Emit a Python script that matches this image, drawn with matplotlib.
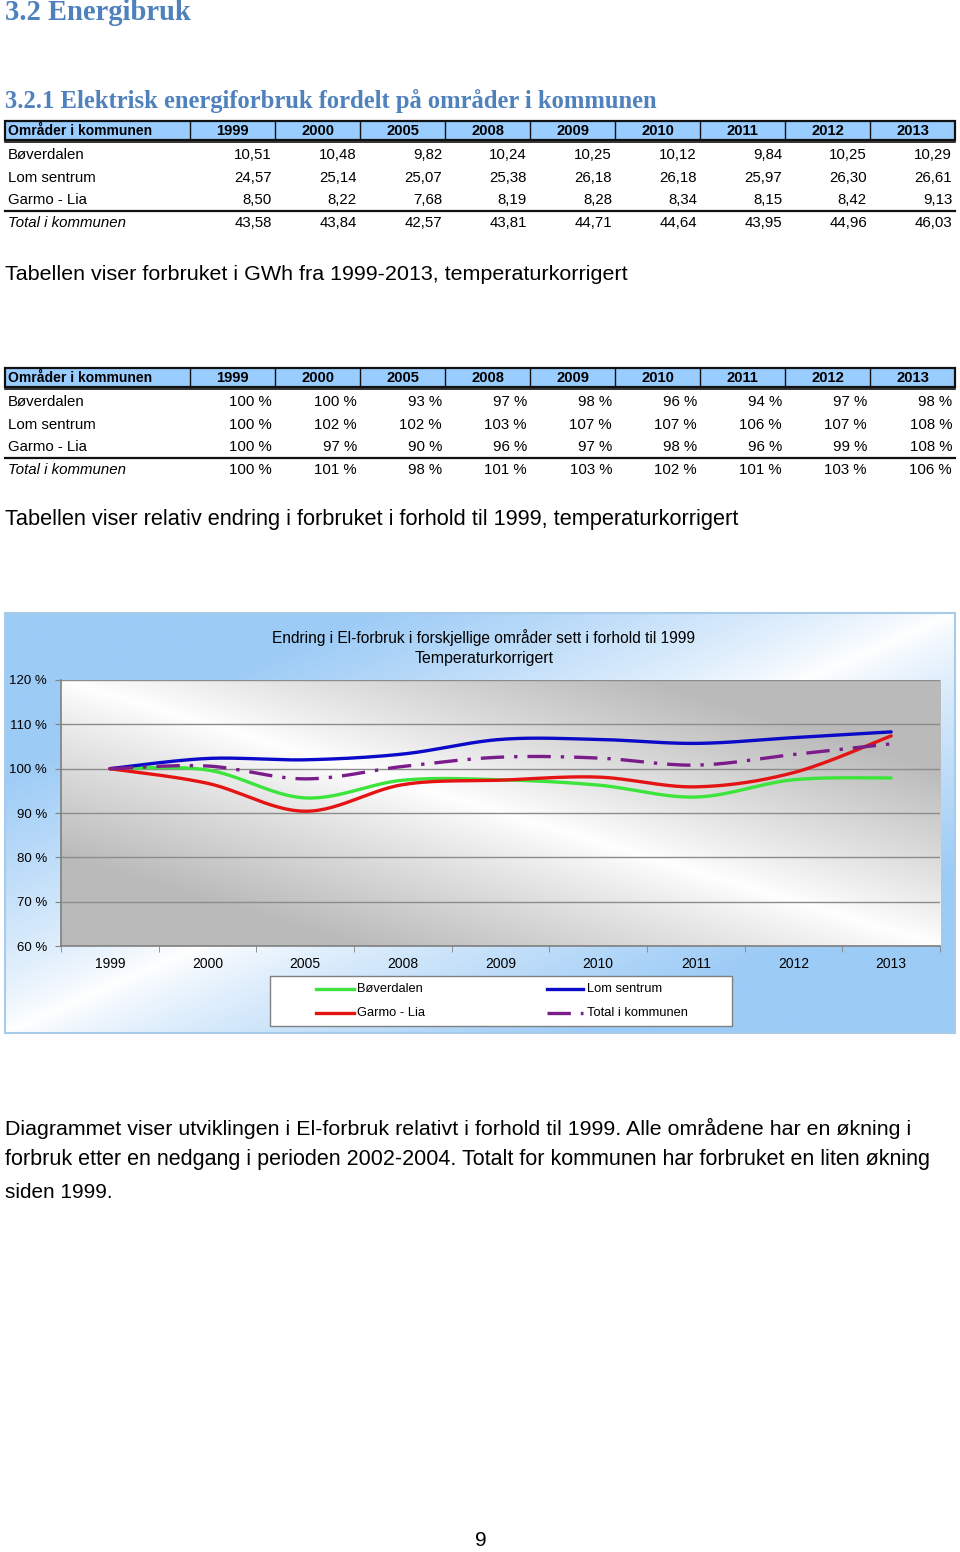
import numpy as np
import matplotlib
matplotlib.use("Agg")
import matplotlib.pyplot as plt
from matplotlib.patches import Rectangle
from matplotlib.lines import Line2D
from matplotlib import font_manager as fm

# ---------------- data ----------------
years = ["1999", "2000", "2005", "2008", "2009", "2010", "2011", "2012", "2013"]
areas = ["Bøverdalen", "Lom sentrum", "Garmo - Lia", "Total i kommunen"]

gwh_bover = [10.51, 10.48, 9.82, 10.24, 10.25, 10.12, 9.84, 10.25, 10.29]
gwh_lom = [24.57, 25.14, 25.07, 25.38, 26.18, 26.18, 25.97, 26.30, 26.61]
gwh_garmo = [8.50, 8.22, 7.68, 8.19, 8.28, 8.34, 8.15, 8.42, 9.13]
gwh_total = [43.58, 43.84, 42.57, 43.81, 44.71, 44.64, 43.95, 44.96, 46.03]

pct_bover = [100, 100, 93, 97, 98, 96, 94, 97, 98]
pct_lom = [100, 102, 102, 103, 107, 107, 106, 107, 108]
pct_garmo = [100, 97, 90, 96, 97, 98, 96, 99, 108]
pct_total = [100, 101, 98, 101, 103, 102, 101, 103, 106]

# chart series (relative to 1999, in %)
chart_bover = [100, 99.7, 93.4, 97.4, 97.5, 96.3, 93.6, 97.5, 97.9]
chart_lom = [100, 102.3, 102.0, 103.3, 106.6, 106.6, 105.7, 107.0, 108.3]
chart_garmo = [100, 96.7, 90.4, 96.4, 97.4, 98.1, 95.9, 99.1, 107.4]
chart_total = [100, 100.6, 97.7, 100.5, 102.6, 102.4, 100.8, 103.2, 105.6]
y_ticks = [60, 70, 80, 90, 100, 110, 120]

# ---------------- fonts ----------------
avail = {f.name for f in fm.fontManager.ttflist}
SANS = "Liberation Sans Narrow" if "Liberation Sans Narrow" in avail else "Liberation Sans"
SERIF = "Liberation Serif"

W, H = 960, 1552
fig = plt.figure(figsize=(W / 100, H / 100), dpi=100)
page = fig.add_axes([0, 0, 1, 1], zorder=0)
over = fig.add_axes([0, 0, 1, 1], zorder=20)
for a in (page, over):
    a.set_xlim(0, W)
    a.set_ylim(H, 0)
    a.axis("off")
over.patch.set_alpha(0)
fig.canvas.draw()
renderer = fig.canvas.get_renderer()


def fit_text(x, y, s, width, size=12, ha="left", va="center", family=SANS, target=None, **kw):
    target = target or page
    t = target.text(x, y, s, ha=ha, va=va, fontsize=size, family=family, **kw)
    if width is not None:
        bb = t.get_window_extent(renderer=renderer)
        t.set_fontsize(size * width / bb.width)
    return t


BLUE_HEAD = "#4F81BD"
fit_text(5, 12, "3.2 Energibruk", 186, size=20, family=SERIF, weight="bold", color=BLUE_HEAD)
fit_text(5, 101, "3.2.1 Elektrisk energiforbruk fordelt på områder i kommunen", 655, size=17,
         family=SERIF, weight="bold", color=BLUE_HEAD)

col_edges = [5, 190, 275, 360, 445, 530, 615, 700, 785, 870, 955]


def draw_table(top, rows, fmt):
    hh = 19
    page.add_patch(Rectangle((col_edges[0], top), col_edges[-1] - col_edges[0], hh,
                             facecolor="#99CCFF", edgecolor="none", zorder=1))
    page.add_patch(Rectangle((col_edges[0], top), col_edges[-1] - col_edges[0], hh,
                             facecolor="none", edgecolor="#111111", lw=1.6, zorder=3))
    for xe in col_edges[1:-1]:
        page.plot([xe, xe], [top, top + hh], color="#111111", lw=1.0, zorder=3)
    page.plot([col_edges[0], col_edges[-1]], [top + hh + 1.5, top + hh + 1.5], color="#111111", lw=1.2, zorder=3)
    fit_text(8, top + hh / 2 + 0.5, "Områder i kommunen", 144, size=10.5, weight="bold")
    for i, yv in enumerate(years):
        xc = (col_edges[i + 1] + col_edges[i + 2]) / 2
        page.text(xc, top + hh / 2 + 0.5, yv, ha="center", va="center", fontsize=10.6,
                  family=SANS, weight="bold")
    row_y = [top + 34, top + 57, top + 79, top + 102]
    page.plot([col_edges[0], col_edges[-1]], [top + 90, top + 90], color="#111111", lw=1.6, zorder=3)
    for r, (name, vals) in enumerate(zip(areas, rows)):
        style = "italic" if r == 3 else "normal"
        page.text(8, row_y[r], name, ha="left", va="center", fontsize=10.8, family=SANS, style=style)
        for i, v in enumerate(vals):
            page.text(col_edges[i + 2] - 3, row_y[r], fmt(v), ha="right", va="center",
                      fontsize=10.8, family=SANS)


draw_table(121, [gwh_bover, gwh_lom, gwh_garmo, gwh_total], lambda v: f"{v:.2f}".replace(".", ","))
fit_text(5, 274, "Tabellen viser forbruket i GWh fra 1999-2013, temperaturkorrigert", 623, size=15)

draw_table(368, [pct_bover, pct_lom, pct_garmo, pct_total], lambda v: f"{v} %")
fit_text(5, 520, "Tabellen viser relativ endring i forbruket i forhold til 1999, temperaturkorrigert", 737, size=15)

# ---------------- chart ----------------
cx0, cy0, cx1, cy1 = 5, 613, 955, 1033


def fig_rect(x0, y0, x1, y1):
    return [x0 / W, 1 - y1 / H, (x1 - x0) / W, (y1 - y0) / H]


bg = fig.add_axes(fig_rect(cx0, cy0, cx1, cy1), zorder=1)
u = np.linspace(0, 1, 300)[None, :]
v = np.linspace(0, 1, 150)[:, None]
d = np.clip(np.abs(u + v - 1.0) * 1.6, 0, 1) ** 0.8
c_white = np.array([1.0, 1.0, 1.0])
c_blue = np.array([0x9C, 0xCB, 0xF6]) / 255
img = c_white[None, None, :] * (1 - d[..., None]) + c_blue[None, None, :] * d[..., None]
bg.imshow(img, aspect="auto", extent=[0, 1, 0, 1], origin="upper")
bg.set_xticks([])
bg.set_yticks([])
for s in bg.spines.values():
    s.set_color("#A9CBEA")
    s.set_linewidth(1.5)

px0, py0, px1, py1 = 61, 680, 940, 946
ax = fig.add_axes(fig_rect(px0, py0, px1, py1), zorder=2)
ax.set_xlim(-0.5, len(years) - 0.5)
ax.set_ylim(60, 120)
g = np.abs(np.linspace(0, 1, 300)[None, :] - np.linspace(0, 1, 150)[:, None])
g = np.clip(g * 1.5, 0, 1) ** 0.9
gray = 1.0 - 0.27 * g
ax.imshow(np.dstack([gray, gray, gray]), aspect="auto", extent=[-0.5, len(years) - 0.5, 60, 120],
          origin="upper", zorder=0)
for t in y_ticks:
    ax.axhline(t, color="#8C8C8C", lw=1.0, zorder=1)


def catmull(xs, ys, n=30):
    xs = np.asarray(xs, float)
    ys = np.asarray(ys, float)
    P = np.column_stack([xs, ys])
    P = np.vstack([P[0], P, P[-1]])
    out = []
    for i in range(1, len(P) - 2):
        p0, p1, p2, p3 = P[i - 1], P[i], P[i + 1], P[i + 2]
        b1 = p1 + (p2 - p0) / 6
        b2 = p2 - (p3 - p1) / 6
        tt = np.linspace(0, 1, n)[:, None]
        seg = ((1 - tt) ** 3) * p1 + 3 * ((1 - tt) ** 2) * tt * b1 + 3 * (1 - tt) * tt ** 2 * b2 + tt ** 3 * p2
        out.append(seg if i == 1 else seg[1:])
    A = np.vstack(out)
    return A[:, 0], A[:, 1]


xi = np.arange(len(years))
DASHDOT = (0, (7, 3, 1, 3))
series = [
    (chart_bover, "#3CE43C", "-", areas[0]),
    (chart_lom, "#0A0AC8", "-", areas[1]),
    (chart_garmo, "#E41414", "-", areas[2]),
    (chart_total, "#7A1C8A", DASHDOT, areas[3]),
]
for vals, col, ls, name in series:
    sx, sy = catmull(xi, vals)
    ax.plot(sx, sy, color=col, lw=2.4, ls=ls, zorder=3, solid_capstyle="round", label=name)

ax.set_yticks(y_ticks)
ax.set_yticklabels([f"{t} %" for t in y_ticks], family=SANS, fontsize=9.5)
ax.set_xticks(xi)
ax.set_xticklabels(years, family=SANS, fontsize=10)
ax.set_xticks(np.arange(len(years) + 1) - 0.5, minor=True)
ax.tick_params(axis="x", which="major", length=0, pad=8)
ax.tick_params(axis="x", which="minor", length=4, color="#808080", direction="out")
ax.tick_params(axis="y", length=4, color="#808080", pad=6)
for sname in ["top", "right"]:
    ax.spines[sname].set_visible(False)
for sname in ["left", "bottom"]:
    ax.spines[sname].set_color("#808080")
    ax.spines[sname].set_linewidth(1.2)

# chart title
fit_text(484, 638, "Endring i El-forbruk i forskjellige områder sett i forhold til 1999", 424, size=11,
         ha="center", target=over)
fit_text(484, 659, "Temperaturkorrigert", 138, size=11, ha="center", target=over)

# legend (row-wise like the reference)
lx0, ly0, lx1, ly1 = 270, 976, 732, 1026
over.add_patch(Rectangle((lx0, ly0), lx1 - lx0, ly1 - ly0, facecolor="white", edgecolor="#808080", lw=1.0))
leg_pos = [(316, 354, 357, 989), (547, 583, 587, 989), (316, 354, 357, 1013), (547, 583, 587, 1013)]
for (vals, col, ls, name), (a0, a1, tx, ty) in zip(series, leg_pos):
    over.add_line(Line2D([a0, a1], [ty, ty], color=col, lw=2.4, ls=ls))
    fit_text(tx, ty, name, None, size=9.3, target=over)

# ---------------- paragraph ----------------
fit_text(5, 1128, "Diagrammet viser utviklingen i El-forbruk relativt i forhold til 1999. Alle områdene har en økning i",
         907, size=16)
fit_text(5, 1160, "forbruk etter en nedgang i perioden 2002-2004. Totalt for kommunen har forbruket en liten økning",
         927, size=16)
fit_text(5, 1192, "siden 1999.", 107, size=16)
page.text(481, 1540, "9", ha="center", va="center", fontsize=15, family=SANS)

fig.savefig("out.png", dpi=100)
